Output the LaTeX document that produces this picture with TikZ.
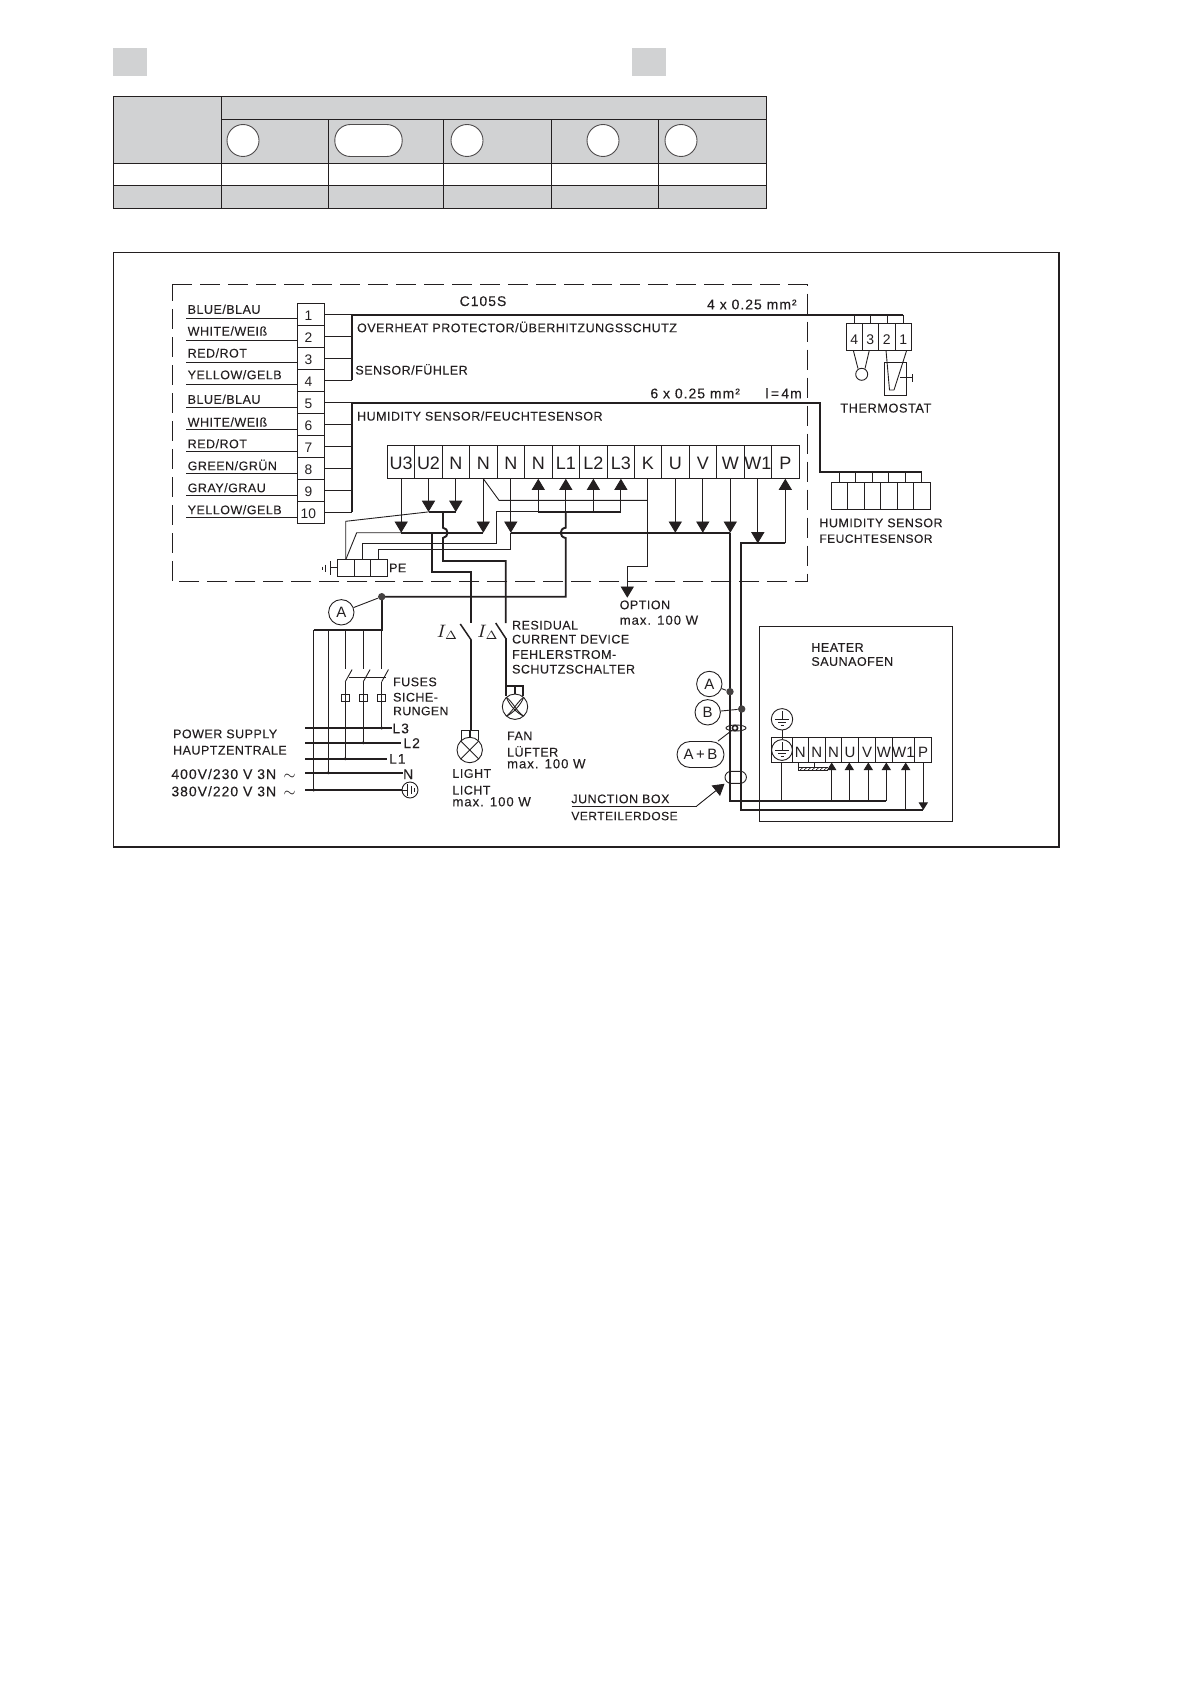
\documentclass[tikz,border=0pt]{standalone}
\usepackage{fontspec}
\setmainfont{Liberation Sans}
\newfontfamily\labfam[LetterSpace=4,FakeBold=0.08]{Liberation Sans}
\newfontfamily\numfam[LetterSpace=7,FakeBold=0.08]{Liberation Sans}
\usetikzlibrary{arrows.meta,calc,shapes.geometric}
\definecolor{ink}{HTML}{231F20}
\definecolor{panel}{HTML}{D1D2D3}
\newcommand{\sizefont}[1]{\fontsize{#1}{#1}\selectfont}
\newcommand{\lbl}[4]{\node[lab] (#1) at (#2,#3) {#4};}
\newcommand{\lblw}[4]{\node[labw] (#1) at (#2,#3) {#4};}
\newcommand{\tcell}[7][\sizefont{9}]{%
  \pgfmathsetmacro\cw{(#4-#3)*0.5}\pgfmathsetmacro\ch{(#6-#5)*0.5}%
  \node[cellbox,font=#1,minimum width=\cw pt,minimum height=\ch pt] (#2) at ({(#3+#4)/2},{(#5+#6)/2}) {#7};}
\tikzset{
  x=0.5pt,y=-0.5pt,
  lab/.style={anchor=west,inner sep=0pt,text=ink,font=\labfam\sizefont{6.25},text height=4.5pt,text depth=0pt},
  labw/.style={anchor=west,inner sep=0pt,text=ink,font=\numfam\sizefont{7},text height=5pt,text depth=0pt},
  cellbox/.style={draw=ink,line width=0.45pt,inner sep=0pt,text=ink,text height=0.72em,text depth=0pt,anchor=center},
  thin wire/.style={draw=ink,line width=0.45pt},
  thick wire/.style={draw=ink,line width=0.95pt},
  sw/.style={draw=ink,line width=0.75pt},
  tip/.style={-{Triangle[length=5.6pt,width=6.6pt]},thin wire},
  small tip/.style={-{Triangle[length=3.8pt,width=4.6pt]},thin wire},
  tag/.style={circle,draw=ink,line width=0.45pt,minimum size=12.7pt,inner sep=0pt,text=ink,font=\sizefont{7.5},fill=white},
  hole/.style={draw=ink!80,line width=0.45pt,fill=white},
  ring/.style={circle,draw=ink,line width=0.45pt,inner sep=0pt},
  bigdot/.style={circle,fill=ink!85,inner sep=0pt,minimum size=3.7pt},
}
\begin{document}
\begin{tikzpicture}
\useasboundingbox (0,0) rectangle (1192,1685);
% ---- top table
\fill[panel] (113,48) rectangle (147,76);
\fill[panel] (632,48) rectangle (666,76);
\fill[panel] (113,96.3) rectangle (766.5,163.3);
\fill[panel] (113,185.3) rectangle (766.5,208.3);
\draw[thin wire,line width=0.5pt] (113,96.3) rectangle (766.5,208.3);
\draw[thin wire,line width=0.5pt] (221.4,119.3) -- (766.5,119.3);
\draw[thin wire,line width=0.5pt] (113,163.3) -- (766.5,163.3);
\draw[thin wire,line width=0.5pt] (113,185.3) -- (766.5,185.3);
\draw[thin wire,line width=0.5pt] (221.4,96.3) -- (221.4,208.3);
\foreach \tx in {328.6,443.8,551.3,658.5}{\draw[thin wire,line width=0.5pt] (\tx,119.3) -- (\tx,208.3);}
\node[hole,circle,minimum size=16pt,inner sep=0pt] (c1) at (243,140.5) {};
\node[hole,rectangle,rounded corners=7.8pt,minimum width=33.7pt,minimum height=16pt,inner sep=0pt] (c2) at (368.5,140.5) {};
\node[hole,circle,minimum size=16pt,inner sep=0pt] (c3) at (467,140.5) {};
\node[hole,circle,minimum size=16pt,inner sep=0pt] (c4) at (603,140.5) {};
\node[hole,circle,minimum size=16pt,inner sep=0pt] (c5) at (681,140.5) {};
% ---- frames
\draw[draw=ink,line width=0.8pt] (113.5,252.7) rectangle (1059,847);
\draw[thin wire,dash pattern=on 10pt off 4pt] (172.3,284.7) -- (807.3,284.7) -- (807.3,581.7) -- (172.3,581.7) -- cycle;
% ---- level coordinates
\coordinate (lvlA) at (0,500.3);
\coordinate (lvlB) at (0,511.9);
\coordinate (lvlC) at (0,532.7);
\coordinate (lvlD) at (0,543.3);
% ---- 1..10 terminal block
\foreach \n/\ya/\yb in {1/303.3/325.3,2/325.3/347.3,3/347.3/369.3,4/369.3/391.3,5/391.3/413.3,6/413.3/435.3,7/435.3/457.3,8/457.3/479.3,9/479.3/501.3,10/501.3/523.3}{
  \tcell[\sizefont{6.9}]{n\n}{297.3}{324.7}{\ya}{\yb}{\raisebox{0.4pt}{\n}\hspace*{2.6pt}}
}
\lbl{w1}{187.3}{309.3}{BLUE/BLAU}
\lbl{w2}{187.3}{331}{WHITE/WEIß}
\lbl{w3}{187.3}{353}{RED/ROT}
\lbl{w4}{187.3}{374.7}{YELLOW/GELB}
\lbl{w5}{187.3}{399.3}{BLUE/BLAU}
\lbl{w6}{187.3}{422}{WHITE/WEIß}
\lbl{w7}{187.3}{443.7}{RED/ROT}
\lbl{w8}{187.3}{465.7}{GREEN/GRÜN}
\lbl{w9}{187.3}{487.7}{GRAY/GRAU}
\lbl{w10}{187.3}{509.7}{YELLOW/GELB}
\foreach \n/\wy in {1/318.3,2/340.3,3/362.3,4/384.3,5/407,6/429,7/451,8/473,9/495.3,10/517.3}{
  \draw[thin wire] (186,\wy) -- (n\n.west |- 0,\wy);
}
\coordinate (busone) at (352.3,314.7);
\coordinate (bustwo) at (352.3,402.9);
\foreach \n in {1,...,4}{\draw[thin wire] (n\n.east) -- (n\n.east -| busone);}
\foreach \n in {5,...,10}{\draw[thin wire] (n\n.east) -- (n\n.east -| bustwo);}
\coordinate (thA) at (903,314.7);
\coordinate (humA) at (820,402.9);
\coordinate (humB) at (820,471.7);
\coordinate (humC) at (921.7,471.7);
\draw[thick wire] (n4.east -| busone) -- (busone) -- (thA);
\draw[thick wire] (n10.east -| bustwo) -- (bustwo) -- (humA) -- (humB) -- (humC);
% ---- texts inside
\node[labw,anchor=center] (model) at (483,301) {C105S};
\lblw{sec1}{706.7}{304.3}{4 x 0.25 mm²}
\lbl{t1}{356.7}{327.7}{OVERHEAT PROTECTOR/ÜBERHITZUNGSSCHUTZ}
\lbl{t2}{355}{370}{SENSOR/FÜHLER}
\lblw{sec2}{650}{393.3}{6 x 0.25 mm²}
\lblw{len}{765}{393.3}{l\,=\,4m}
\lbl{t3}{356.7}{416}{HUMIDITY SENSOR/FEUCHTESENSOR}
% ---- main terminal row
\tcell{tU3}{387.7}{414.7}{445.7}{478.3}{U3}
\tcell{tU2}{414.7}{442.3}{445.7}{478.3}{U2}
\tcell{tNa}{442.3}{469.3}{445.7}{478.3}{N}
\tcell{tNb}{469.3}{497.3}{445.7}{478.3}{N}
\tcell{tNc}{497.3}{524.3}{445.7}{478.3}{N}
\tcell{tNd}{524.3}{552.3}{445.7}{478.3}{N}
\tcell{tLa}{552.3}{579.3}{445.7}{478.3}{L1}
\tcell{tLb}{579.3}{607.5}{445.7}{478.3}{L2}
\tcell{tLc}{607.5}{634.3}{445.7}{478.3}{L3}
\tcell{tK}{634.3}{661.3}{445.7}{478.3}{K}
\tcell{tU}{661.3}{689.3}{445.7}{478.3}{U}
\tcell{tV}{689.3}{716.3}{445.7}{478.3}{V}
\tcell{tW}{716.3}{744.3}{445.7}{478.3}{W}
\tcell{tWa}{744.3}{771.3}{445.7}{478.3}{W1}
\tcell{tP}{771.3}{799.3}{445.7}{478.3}{P}
% arrows
\draw[tip] (tU3.south) -- (tU3.south |- lvlC);
\draw[tip] (tU2.south) -- (tU2.south |- lvlB);
\draw[tip] (tNa.south) -- (tNa.south |- lvlB);
\draw[tip] (tNb.south) -- (tNb.south |- lvlC);
\draw[tip] (tNc.south) -- (tNc.south |- lvlC);
\draw[tip] (tU.south) -- (tU.south |- lvlC);
\draw[tip] (tV.south) -- (tV.south |- lvlC);
\draw[tip] (tW.south) -- (tW.south |- lvlC);
\draw[tip] (tWa.south) -- (tWa.south |- lvlD);
\draw[tip] (tNd.south |- lvlB) -- (tNd.south);
\draw[tip] (tLa.south |- lvlB) -- (tLa.south);
\draw[tip] (tLb.south |- lvlB) -- (tLb.south);
\draw[tip] (tLc.south |- lvlB) -- (tLc.south);
\draw[tip] (tP.south |- lvlD) -- (tP.south);
% buses
\draw[thick wire] (tU2.south |- lvlB) -- (tNa.south |- lvlB);
\draw[thick wire] (tU3.south |- lvlC) -- (tNb.south |- lvlC);
\draw[thick wire] (tNc.south |- lvlC) -- (tW.south |- lvlC);
\draw[thick wire] (tNd.south |- lvlB) -- (tLc.south |- lvlB);
% ---- PE block
\tcell[\sizefont{6.5}]{peA}{337.7}{354.7}{559.3}{576.3}{}
\tcell[\sizefont{6.5}]{peB}{354.7}{370.7}{559.3}{576.3}{}
\tcell[\sizefont{6.5}]{peC}{370.7}{387.7}{559.3}{576.3}{}
\lbl{pe}{388.7}{567.7}{PE}
\coordinate (earthPE) at (330,567.8);
\draw[thin wire] (peA.west) -- (earthPE);
\draw[thin wire] (330,561) -- (330,575);
\draw[thin wire] (325.5,564.5) -- (325.5,571.5);
\draw[thin wire] (322.8,566.5) -- (322.8,569.5);
% PE wires
\draw[thin wire] (345.7,559.3) -- (345.7,521.3) -- (tU2.south |- lvlB);
\draw[thin wire] (345.9,559.3) -- (356.7,532.7) -- (tU3.south |- lvlC);
\draw[thin wire] (362.3,559.3) -- (362.3,543.3) -- (496.3,543.3) -- (496.3,511.9) -- (tNd.south |- lvlB);
\draw[thin wire] (378.3,559.3) -- (378.3,549.3) -- (tNc.south |- 0,549.3) -- (tNc.south |- lvlC);
\draw[thin wire] (tNb.south) -- (499,500.3) -- (tK.south |- lvlA);
\coordinate (optA) at (627.3,566.3);
\draw[thin wire] (tK.south) -- (tK.south |- optA) -- (optA);
\coordinate (optTip) at (627.3,597.7);
\draw[tip] (optA) -- (optTip);
\lbl{opt}{619.3}{604.7}{OPTION}
\lblw{optb}{619.3}{619.7}{\sizefont{6.6}max. 100 W}
% ---- thick feeds
\coordinate (jA) at (381.7,596.7);
\draw[thick wire] (443,511.9) -- (443,527.7) .. controls (449,528.5) and (449,537) .. (443,538) -- (443,561) -- (505.7,561) -- (505.7,623);
\draw[thick wire] (432.3,532.7) -- (432.3,572) -- (471.2,572) -- (471.2,623.3);
\draw[thick wire] (565.7,511.9) -- (565.7,527.7) .. controls (559,528.5) and (559,537) .. (565.7,538) -- (565.7,596.7) -- (jA);
\draw[thick wire] (jA) -- (381.7,629.7) -- (313.7,629.7);
\node[bigdot] (jAd) at (jA) {};
\node[tag] (tagA) at (341.3,612.3) {A};
\draw[thin wire] (tagA) -- (jAd);
% ---- RCD
\draw[sw] (460.3,624) -- (471.2,640);
\draw[sw] (495.7,623) -- (505.7,638.3);
\node[inner sep=0pt,text=ink,font=\sizefont{9}] (ia) at (447.5,632) {$I_\Delta$};
\node[inner sep=0pt,text=ink,font=\sizefont{9}] (ib) at (488,632) {$I_\Delta$};
\lbl{r1}{511.7}{625}{RESIDUAL}
\lbl{r2}{511.7}{639}{CURRENT DEVICE}
\lbl{r3}{511.7}{654.3}{FEHLERSTROM-}
\lbl{r4}{511.7}{669}{SCHUTZSCHALTER}
% fan
\node[ring,minimum size=12.7pt] (fan) at (515,706.7) {};
\draw[thick wire] (506,638.3) -- (506,686) -- (523.3,686) -- (523.3,696);
\draw[thick wire] (506,686) -- (506,696);
\draw[thick wire] (514.7,686) -- (514.7,694);
\draw[thin wire] (506.5,697.5) .. controls (512,701) and (517,712) .. (523.5,716);
\draw[thin wire] (506.5,697.5) .. controls (509,705) and (518,714) .. (523.5,716);
\draw[thin wire] (523.5,697.5) .. controls (518,701) and (512,712) .. (506.5,716);
\draw[thin wire] (523.5,697.5) .. controls (521,705) and (512,714) .. (506.5,716);
\lbl{f1}{506.7}{735.7}{FAN}
\lbl{f2}{506.7}{752}{LÜFTER}
\lblw{f3}{506.7}{763.3}{\sizefont{6.6}max. 100 W}
% light
\node[ring,minimum size=12.7pt] (lamp) at (469.7,750) {};
\draw[thick wire] (471.2,640) -- (471.2,730.3);
\draw[thin wire,line width=0.7pt] (461.7,740) -- (461.7,730.3) -- (478.3,730.3) -- (478.3,740);
\draw[thin wire,line width=0.7pt] (470,730.3) -- (470,737.3);
\draw[thin wire] (460.7,741) -- (478.7,759);
\draw[thin wire] (478.7,741) -- (460.7,759);
\lbl{l1}{452}{773.3}{LIGHT}
\lbl{l2}{452}{790}{LICHT}
\lblw{l3}{452}{801.3}{\sizefont{6.6}max. 100 W}
% ---- supply
\foreach \sx/\se in {313.7/790,328.3/772.7}{\draw[thin wire] (\sx,629.7) -- (\sx,\se);}
\foreach \sx/\se in {345.3/758.7,363.3/742.7,381.7/728}{
  \draw[thin wire] (\sx,629.7) -- (\sx,669.3);
  \draw[thin wire] (\sx,681.7) -- (\sx,\se);
  \draw[thin wire] (\sx,681.7) -- ({\sx+6.8},669.5);
  \draw[thin wire,fill=white] ({\sx-4.2},694.7) rectangle ({\sx+4.2},701.3);
  \draw[thin wire] (\sx,694.7) -- (\sx,701.3);
}
\draw[thin wire] (349,677.3) -- (385.5,677.3);
\coordinate (sL3) at (391.7,728);
\coordinate (sL2) at (400.7,742.7);
\coordinate (sL1) at (387.3,758.7);
\coordinate (sN) at (402.7,772.7);
\node[ring,minimum size=8pt] (sE) at (410,790) {};
\draw[thick wire] (305,728) -- (sL3);
\draw[thick wire] (305,742.7) -- (sL2);
\draw[thick wire] (305,758.7) -- (sL1);
\draw[thick wire] (305,772.7) -- (sN);
\draw[thick wire] (305,790) -- (sE.west);
\draw[thin wire] (sE.west) -- (407.5,790);
\draw[thin wire] (407.5,784) -- (407.5,796);
\draw[thin wire] (411,786) -- (411,794);
\draw[thin wire] (414,788) -- (414,792);
\foreach \sx/\se in {313.7/790,328.3/772.7,345.3/758.7,363.3/742.7,381.7/728}{\fill[ink] (\sx,\se) circle (0.8pt);}
\lblw{s3}{392}{728.3}{L3}
\lblw{s2}{403}{743}{L2}
\lblw{s1}{388.7}{758.7}{L1}
\lblw{sn}{402.7}{774}{N}
\lbl{fu1}{392.7}{681.7}{FUSES}
\lbl{fu2}{392.7}{697}{SICHE-}
\lbl{fu3}{392.7}{710.7}{\sizefont{6.1}RUNGEN}
\lbl{ps1}{172.7}{733.7}{POWER SUPPLY}
\lbl{ps2}{172.7}{750}{HAUPTZENTRALE}
\lblw{ps3}{171}{774}{400V/230 V 3N \,$\sim$}
\lblw{ps4}{171}{791.3}{380V/220 V 3N \,$\sim$}
% ---- thermostat
\tcell[\sizefont{7}]{th4}{846.3}{862.3}{323.3}{350.3}{4}
\tcell[\sizefont{7}]{th3}{862.3}{878.3}{323.3}{350.3}{3}
\tcell[\sizefont{7}]{th2}{878.3}{895.3}{323.3}{350.3}{2}
\tcell[\sizefont{7}]{th1}{895.3}{911.3}{323.3}{350.3}{1}
\foreach \n/\lx in {4/854.3,3/870.7,2/887.3,1/903.3}{\draw[thin wire] (\lx,314.7) -- (\lx,323.3);}
\node[ring,minimum size=6pt] (bulb) at (861.7,374.3) {};
\draw[thin wire] (853.3,350.3) -- (858,368.6);
\draw[thin wire] (869.3,350.3) -- (865,368.6);
\draw[thin wire] (884.7,362.7) rectangle (906.7,395.3);
\draw[thin wire] (886,350.3) -- (889.5,390) -- (894,390);
\draw[thin wire] (906.7,350.3) -- (894,390);
\draw[thin wire] (900,377.7) -- (912.3,377.7);
\draw[thin wire] (912.3,374) -- (912.3,381.7);
\lbl{tht}{840}{408}{\sizefont{6.4}THERMOSTAT}
% ---- humidity
\foreach \n/\a/\b/\lx in {a/831.3/847.3/839.3,b/847.3/864.3/855.7,c/864.3/880.3/872.3,d/880.3/897.3/888.7,e/897.3/913.3/905.7,f/913.3/930.3/921.7}{
  \tcell[\sizefont{7}]{hu\n}{\a}{\b}{482.3}{509.3}{}
  \draw[thin wire] (\lx,471.7) -- (\lx,482.3);
}
\lbl{hs1}{819}{522.7}{HUMIDITY SENSOR}
\lbl{hs2}{819}{538.3}{\sizefont{6}FEUCHTESENSOR}
% ---- heater
\draw[thin wire] (759.3,626.3) rectangle (952.3,821.3);
\lbl{he1}{811}{647.3}{HEATER}
\lbl{he2}{811}{661.3}{SAUNAOFEN}
\tcell[\sizefont{7.5}]{hE}{771.7}{792.3}{737.3}{762.3}{}
\tcell[\sizefont{7.5}]{hNa}{792.3}{808.3}{737.3}{762.3}{N}
\tcell[\sizefont{7.5}]{hNb}{808.3}{825.3}{737.3}{762.3}{N}
\tcell[\sizefont{7.5}]{hNc}{825.3}{841.7}{737.3}{762.3}{N}
\tcell[\sizefont{7.5}]{hU}{841.7}{858.3}{737.3}{762.3}{U}
\tcell[\sizefont{7.5}]{hV}{858.3}{875.7}{737.3}{762.3}{V}
\tcell[\sizefont{7.5}]{hW}{875.7}{892}{737.3}{762.3}{W}
\tcell[\sizefont{7.5}]{hWa}{892}{914.7}{737.3}{762.3}{W1}
\tcell[\sizefont{7.5}]{hP}{914.7}{931.7}{737.3}{762.3}{P}
\node[ring,minimum size=10.4pt] (gndB) at (782,750) {};
\node[ring,minimum size=10.7pt] (gndA) at (782,719.3) {};
\draw[thin wire] (gndA) -- (gndB);
\foreach \cy in {719.3,750}{
  \draw[thin wire] (782,{\cy-8}) -- (782,\cy);
  \draw[thin wire] (775,\cy) -- (789,\cy);
  \draw[thin wire] (778,{\cy+3.5}) -- (786,{\cy+3.5});
  \draw[thin wire] (780.5,{\cy+6.5}) -- (783.5,{\cy+6.5});
}
% thick trunks
\coordinate (trAa) at (730,532.7);
\coordinate (trAb) at (730,801);
\coordinate (trAc) at (886.3,801);
\coordinate (trBa) at (741.3,543.3);
\coordinate (trBb) at (741.3,810);
\coordinate (trBc) at (923.3,810);
\draw[thick wire] (trAa) -- (trAb) -- (trAc);
\draw[thick wire] (tP.south |- lvlD) -- (trBa) -- (trBb) -- (trBc);
\foreach \ax in {831.7,849.3,868.3,886.3}{\draw[small tip] (\ax,801) -- (\ax,762.5);}
\draw[small tip] (905.7,810) -- (905.7,762.5);
\draw[small tip] (923.3,762.3) -- (trBc);
\draw[thin wire] (781.3,762.3) -- (781.3,801);
% jumper
\draw[thin wire] (798.3,762.3) -- (798.3,770) -- (828.3,770);
\draw[thin wire] (814,762.3) -- (814,768);
\draw[thin wire] (798.3,767.5) -- (828.3,767.5);
\foreach \hx in {800,804,808,812,816,820,824}{\draw[thin wire,line width=0.3pt] (\hx,770) -- ({\hx+3},767.5);}
% tags at trunks
\node[bigdot] (dotA) at (730,691.7) {};
\node[bigdot] (dotB) at (741.7,709) {};
\node[tag] (hA) at (709.3,684) {A};
\node[tag] (hB) at (707.7,712.3) {B};
\draw[thin wire] (hA) -- (dotA);
\draw[thin wire] (hB) -- (dotB);
\node[draw=ink,line width=0.45pt,ellipse,minimum width=10pt,minimum height=3pt,inner sep=0pt] (ell) at (736,728) {};
\node[circle,draw=ink,line width=0.8pt,inner sep=0pt,minimum size=2.6pt] (dotAB) at (735,728) {};
\node[tag,rectangle,rounded corners=6.5pt,minimum width=23.5pt,minimum height=13pt] (hAB) at (700.5,754.5) {A\,+\,B};
\draw[thin wire] (hAB) -- (dotAB);
\node[draw=ink,line width=0.45pt,rectangle,rounded corners=3pt,minimum width=10.7pt,minimum height=6pt,inner sep=0pt] (jbox) at (735.7,777.3) {};
\lbl{jb1}{571}{798.7}{JUNCTION BOX}
\lbl{jb2}{571}{815.7}{\sizefont{6}VERTEILERDOSE}
\coordinate (jbk) at (696.7,806);
\draw[thin wire] (571.7,806) -- (jbk);
\draw[tip] (jbk) -- (jbox.south west);
\end{tikzpicture}
\end{document}
